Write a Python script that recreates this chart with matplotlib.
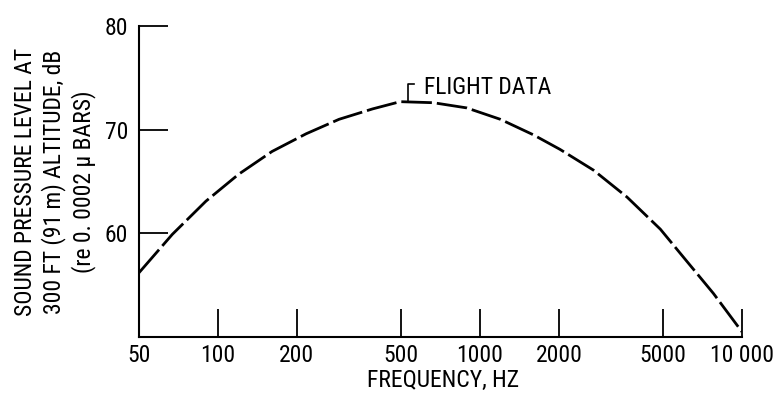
import numpy as np
import matplotlib
matplotlib.use("Agg")
import matplotlib.pyplot as plt
from matplotlib import font_manager, ticker

# ---- data ----
freq_hz = [50, 67, 90, 120, 161, 217, 290, 389, 496, 664, 890, 1196, 1600,
           2020, 2710, 3640, 4880, 5800, 7780, 10000]
spl_db = [56.2, 59.9, 63.1, 65.7, 67.9, 69.6, 71.0, 72.0, 72.7, 72.6, 72.1,
          71.0, 69.5, 68.1, 66.1, 63.5, 60.4, 58.1, 54.2, 50.5]
x_ticks = [50, 100, 200, 500, 1000, 2000, 5000, 10000]
x_tick_labels = ["50", "100", "200", "500", "1000", "2000", "5000", "10 000"]
y_ticks = [60, 70, 80]
y_tick_labels = ["60", "70", "80"]
series_label = "FLIGHT DATA"
label_freq = 530
x_label = "FREQUENCY, HZ"
y_label = "SOUND PRESSURE LEVEL AT\n300 FT (91 m) ALTITUDE, dB\n(re 0. 0002 \u03bc BARS)"

names = {f.name for f in font_manager.fontManager.ttflist}
STRETCH = "normal"
for cand in ["Roboto Condensed", "Archivo Narrow", "Liberation Sans Narrow"]:
    if cand in names:
        FAM = [cand, "DejaVu Sans"]
        break
else:
    FAM = ["DejaVu Sans"]
    STRETCH = "condensed"
plt.rcParams["font.family"] = FAM
plt.rcParams["font.stretch"] = STRETCH
FS = 17

fig = plt.figure(figsize=(7.74, 3.97), dpi=100)
ax = fig.add_axes([139 / 774, 1 - 337 / 397, (742 - 139) / 774, (337 - 26) / 397])

ax.plot(freq_hz, spl_db, color="black", lw=2.0,
        linestyle=(0, (11, 1.8)), dash_capstyle="butt", solid_joinstyle="round")

ax.set_xscale("log")
ax.set_xlim(50, 10000)
ax.set_ylim(50, 80)
ax.set_xticks(x_ticks)
ax.set_xticklabels(x_tick_labels)
ax.xaxis.set_minor_locator(ticker.NullLocator())
ax.set_yticks(y_ticks)
ax.set_yticklabels(y_tick_labels)

for s in ["top", "right"]:
    ax.spines[s].set_visible(False)
for s in ["left", "bottom"]:
    ax.spines[s].set_linewidth(1.5)

ax.tick_params(axis="x", direction="in", length=20, width=1.3, pad=5,
               labelsize=FS)
ax.tick_params(axis="y", direction="in", length=21, width=1.3, pad=8,
               labelsize=FS)
# no tick mark at the 50 Hz origin
ax.xaxis.get_major_ticks()[0].tick1line.set_visible(False)

# flight data label with bracket
y_curve = np.interp(np.log10(label_freq), np.log10(freq_hz), spl_db)
ax.plot([label_freq, label_freq, label_freq * 1.06],
        [y_curve, y_curve + 1.7, y_curve + 1.7], color="black", lw=1.2)
ax.text(label_freq * 1.15, y_curve + 1.4, series_label, fontsize=FS,
        ha="left", va="center")

fig.text(443 / 774, 1 - 380 / 397, x_label, fontsize=FS,
         ha="center", va="center")
fig.text(55 / 774, 1 - 182 / 397, y_label,
         fontsize=FS, rotation=90, ha="center", va="center",
         multialignment="center", linespacing=1.25)

fig.savefig("out.png", dpi=100, facecolor="white")
